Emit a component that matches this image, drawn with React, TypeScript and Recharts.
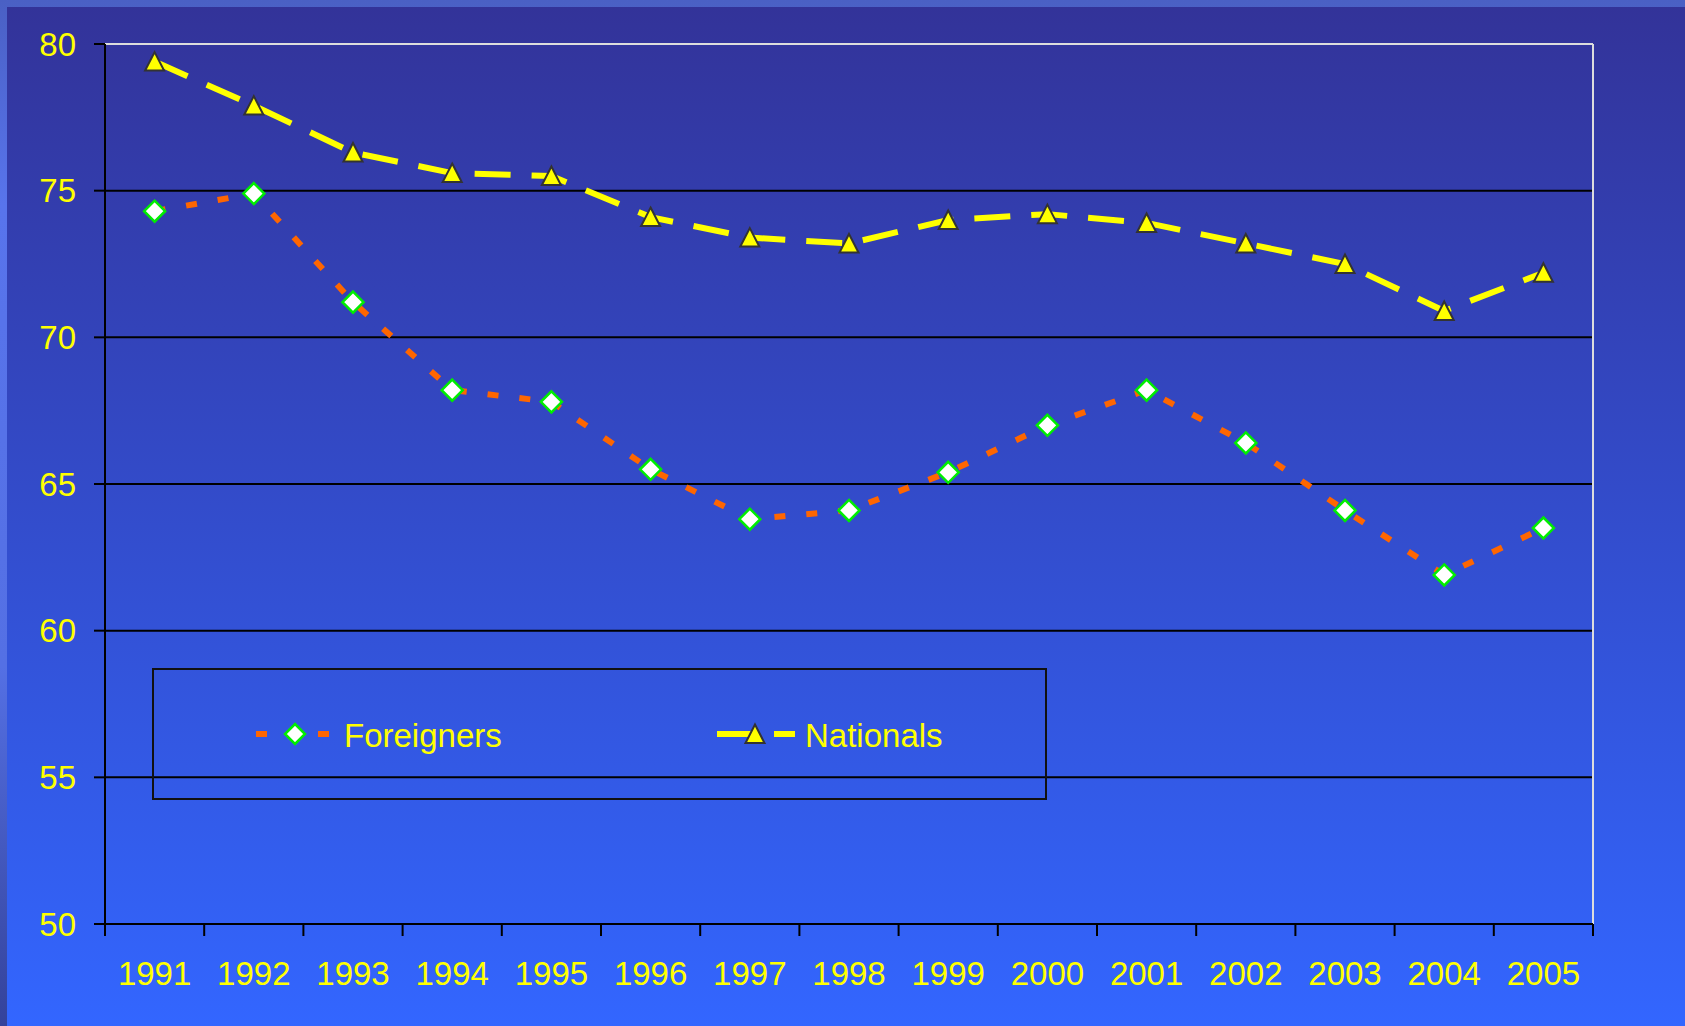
import React from "react";
import {
  CartesianGrid,
  Legend,
  Line,
  LineChart,
  ReferenceLine,
  XAxis,
  YAxis,
} from "recharts";

const years = [1991, 1992, 1993, 1994, 1995, 1996, 1997, 1998, 1999, 2000, 2001, 2002, 2003, 2004, 2005];
const foreigners = [74.3, 74.9, 71.2, 68.2, 67.8, 65.5, 63.8, 64.1, 65.4, 67.0, 68.2, 66.4, 64.1, 61.9, 63.5];
const nationals = [79.4, 77.9, 76.3, 75.6, 75.5, 74.1, 73.4, 73.2, 74.0, 74.2, 73.9, 73.2, 72.5, 70.9, 72.2];
const yTicks = [50, 55, 60, 65, 70, 75, 80];

const FONT = "'Liberation Sans', Arial, sans-serif";
const YELLOW = "#ffff00";
const ORANGE = "#ff6600";

const data = years.map((year, i) => ({
  year,
  foreigners: foreigners[i],
  nationals: nationals[i],
}));

// labels at the years, tick marks between categories (Excel style)
const xTicks: number[] = [years[0] - 0.5];
years.forEach((y) => xTicks.push(y, y + 0.5));

function YearTick(props: any) {
  const { x, y, payload } = props;
  const v = payload.value as number;
  if (Number.isInteger(v)) {
    return (
      <text x={x} y={y + 38} dy="0.71em" textAnchor="middle" fill={YELLOW} fontSize={33} fontFamily={FONT}>
        {v}
      </text>
    );
  }
  return <line x1={x} x2={x} y1={y} y2={y + 12} stroke="#000" strokeWidth={2} />;
}

function Diamond({ cx, cy, r = 10.5 }: { cx: number; cy: number; r?: number }) {
  return (
    <polygon
      points={`${cx},${cy - r} ${cx + r},${cy} ${cx},${cy + r} ${cx - r},${cy}`}
      fill="#ffffff"
      stroke="#00ee00"
      strokeWidth={2.5}
    />
  );
}

function Triangle({ cx, cy }: { cx: number; cy: number }) {
  return (
    <polygon
      points={`${cx},${cy - 9.5} ${cx + 9.5},${cy + 9} ${cx - 9.5},${cy + 9}`}
      fill={YELLOW}
      stroke="#333333"
      strokeWidth={2}
    />
  );
}

const renderDiamond = (p: any) => <Diamond key={`f-${p.index}`} cx={p.cx} cy={p.cy} />;
const renderTriangle = (p: any) => <Triangle key={`n-${p.index}`} cx={p.cx} cy={p.cy} />;

function LegendBox() {
  return (
    <svg width={895} height={132} style={{ display: "block" }}>
      <rect x={1} y={1} width={893} height={130} fill="none" stroke="#111" strokeWidth={2} />
      {/* Foreigners */}
      <line x1={104} x2={115} y1={66} y2={66} stroke={ORANGE} strokeWidth={6} />
      <line x1={166} x2={177} y1={66} y2={66} stroke={ORANGE} strokeWidth={6} />
      <Diamond cx={143} cy={66} r={10} />
      <text x={192} y={79} fill={YELLOW} fontSize={33} fontFamily={FONT}>Foreigners</text>
      {/* Nationals */}
      <line x1={565} x2={600} y1={66} y2={66} stroke={YELLOW} strokeWidth={6} />
      <line x1={622} x2={643} y1={66} y2={66} stroke={YELLOW} strokeWidth={6} />
      <Triangle cx={603} cy={66} />
      <text x={653} y={79} fill={YELLOW} fontSize={33} fontFamily={FONT}>Nationals</text>
    </svg>
  );
}

export default function App() {
  return (
    <div
      style={{
        position: "absolute",
        left: 0,
        top: 0,
        width: 1685,
        height: 1026,
        overflow: "hidden",
        background: "linear-gradient(to bottom, #4a60c4 0%, #5874ec 20%, #5470e4 65%, #34429a 100%)",
      }}
    >
      <div
        style={{
          position: "absolute",
          left: 7,
          top: 7,
          right: 0,
          bottom: 0,
          background: "linear-gradient(to bottom, #333399 0%, #3366ff 100%)",
        }}
      />
      <div style={{ position: "absolute", left: 0, top: 0 }}>
        <LineChart
          width={1685}
          height={1026}
          data={data}
          margin={{ top: 44, right: 92, bottom: 42, left: 35 }}
        >
          <CartesianGrid horizontal vertical={false} stroke="#000" strokeWidth={2} />
          <XAxis
            dataKey="year"
            type="number"
            domain={[years[0] - 0.5, years[years.length - 1] + 0.5]}
            ticks={xTicks}
            interval={0}
            height={60}
            tickSize={0}
            tickMargin={0}
            tickLine={false}
            axisLine={{ stroke: "#000", strokeWidth: 2 }}
            tick={<YearTick />}
          />
          <YAxis
            type="number"
            domain={[50, 80]}
            ticks={yTicks}
            interval={0}
            width={70}
            tickSize={11}
            tickMargin={18}
            tickLine={{ stroke: "#000", strokeWidth: 2 }}
            axisLine={{ stroke: "#000", strokeWidth: 2 }}
            tick={{ fill: YELLOW, fontSize: 33, fontFamily: FONT }}
          />
          <ReferenceLine y={80} stroke="#dddddd" strokeWidth={2} />
          <ReferenceLine x={years[years.length - 1] + 0.5} stroke="#dddddd" strokeWidth={2} />
          <Line
            dataKey="foreigners"
            name="Foreigners"
            type="linear"
            stroke={ORANGE}
            strokeWidth={6}
            strokeDasharray="11 21"
            dot={renderDiamond}
            activeDot={false}
            isAnimationActive={false}
          />
          <Line
            dataKey="nationals"
            name="Nationals"
            type="linear"
            stroke={YELLOW}
            strokeWidth={6}
            strokeDasharray="36 21"
            dot={renderTriangle}
            activeDot={false}
            isAnimationActive={false}
          />
          <Legend
            layout="horizontal"
            verticalAlign="middle"
            align="center"
            content={() => <LegendBox />}
            wrapperStyle={{ left: 152, top: 668, width: 895, height: 132 }}
          />
        </LineChart>
      </div>
    </div>
  );
}
